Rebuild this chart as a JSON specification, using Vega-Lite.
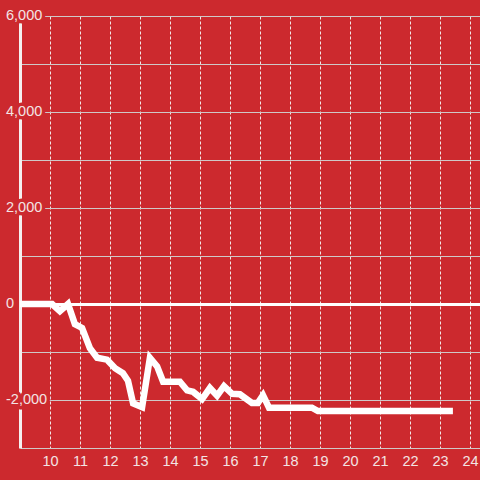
{
  "$schema": "https://vega.github.io/schema/vega-lite/v6.json",
  "width": 460,
  "height": 432,
  "autosize": {"type": "none"},
  "padding": {"left": 20, "top": 16, "right": 0, "bottom": 32},
  "background": "#CC292E",
  "config": {"view": {"stroke": null}, "font": "Liberation Sans"},
  "datasets": {
    "series": [
      {"day": 9.0, "value": 0},
      {"day": 10.07, "value": 0},
      {"day": 10.33, "value": -150},
      {"day": 10.6, "value": 0},
      {"day": 10.83, "value": -420},
      {"day": 11.07, "value": -500},
      {"day": 11.33, "value": -920},
      {"day": 11.57, "value": -1120},
      {"day": 11.9, "value": -1160},
      {"day": 12.17, "value": -1340},
      {"day": 12.43, "value": -1440},
      {"day": 12.6, "value": -1600},
      {"day": 12.77, "value": -2070},
      {"day": 13.07, "value": -2150},
      {"day": 13.33, "value": -1120},
      {"day": 13.57, "value": -1300},
      {"day": 13.77, "value": -1620},
      {"day": 14.33, "value": -1620},
      {"day": 14.57, "value": -1800},
      {"day": 14.77, "value": -1830},
      {"day": 15.07, "value": -1980},
      {"day": 15.33, "value": -1750},
      {"day": 15.57, "value": -1910},
      {"day": 15.8, "value": -1710},
      {"day": 16.07, "value": -1870},
      {"day": 16.33, "value": -1880},
      {"day": 16.73, "value": -2060},
      {"day": 16.93, "value": -2060},
      {"day": 17.1, "value": -1900},
      {"day": 17.3, "value": -2160},
      {"day": 18.73, "value": -2160},
      {"day": 18.93, "value": -2230},
      {"day": 23.43, "value": -2230}
    ],
    "yticks": [
      {"v": -2000, "label": "-2,000"},
      {"v": 0, "label": "0"},
      {"v": 2000, "label": "2,000"},
      {"v": 4000, "label": "4,000"},
      {"v": 6000, "label": "6,000"}
    ]
  },
  "layer": [
    {
      "data": {"name": "series"},
      "mark": {"type": "line", "color": "white", "strokeWidth": 6.5, "strokeJoin": "miter"},
      "encoding": {
        "x": {
          "field": "day", "type": "quantitative",
          "scale": {"domain": [9, 24.333], "nice": false, "zero": false},
          "axis": {
            "values": [10, 11, 12, 13, 14, 15, 16, 17, 18, 19, 20, 21, 22, 23, 24],
            "grid": true, "gridColor": "#F2E6E6", "gridDash": [3, 2], "gridWidth": 1,
            "domain": false, "ticks": false, "labelOverlap": false,
            "labelColor": "#F3E4E4", "labelFontSize": 14.5, "labelPadding": 6,
            "title": null, "zindex": 0
          }
        },
        "y": {
          "field": "value", "type": "quantitative",
          "scale": {"domain": [-3000, 6000], "nice": false, "zero": false},
          "axis": {
            "values": [-3000, -2000, -1000, 0, 1000, 2000, 3000, 4000, 5000, 6000],
            "labels": false, "ticks": false,
            "domain": true, "domainColor": "#F5F0F0", "domainWidth": 3,
            "grid": true,
            "gridColor": {"condition": {"test": "datum.value === 0", "value": "#FFFFFF"}, "value": "#CFC8C8"},
            "gridWidth": {"condition": {"test": "datum.value === 0", "value": 3}, "value": 1},
            "title": null, "zindex": 0
          }
        }
      }
    },
    {
      "data": {"name": "yticks"},
      "mark": {"type": "text", "align": "left", "baseline": "middle", "dx": -14, "fontSize": 14.5, "fill": "#CC292E", "stroke": "#CC292E", "strokeWidth": 7, "strokeJoin": "round"},
      "encoding": {
        "x": {
          "datum": 9, "type": "quantitative",
          "axis": {
            "values": [10, 11, 12, 13, 14, 15, 16, 17, 18, 19, 20, 21, 22, 23, 24],
            "grid": true, "gridColor": "#F2E6E6", "gridDash": [3, 2], "gridWidth": 1,
            "domain": false, "ticks": false, "labelOverlap": false,
            "labelColor": "#F3E4E4", "labelFontSize": 14.5, "labelPadding": 6,
            "title": null, "zindex": 0
          }
        },
        "y": {"field": "v", "type": "quantitative"},
        "text": {"field": "label"}
      }
    },
    {
      "data": {"name": "yticks"},
      "mark": {"type": "text", "align": "left", "baseline": "middle", "dx": -14, "fontSize": 14.5, "fill": "#F3E4E4"},
      "encoding": {
        "x": {
          "datum": 9, "type": "quantitative",
          "axis": {
            "values": [10, 11, 12, 13, 14, 15, 16, 17, 18, 19, 20, 21, 22, 23, 24],
            "grid": true, "gridColor": "#F2E6E6", "gridDash": [3, 2], "gridWidth": 1,
            "domain": false, "ticks": false, "labelOverlap": false,
            "labelColor": "#F3E4E4", "labelFontSize": 14.5, "labelPadding": 6,
            "title": null, "zindex": 0
          }
        },
        "y": {"field": "v", "type": "quantitative"},
        "text": {"field": "label"}
      }
    }
  ]
}
